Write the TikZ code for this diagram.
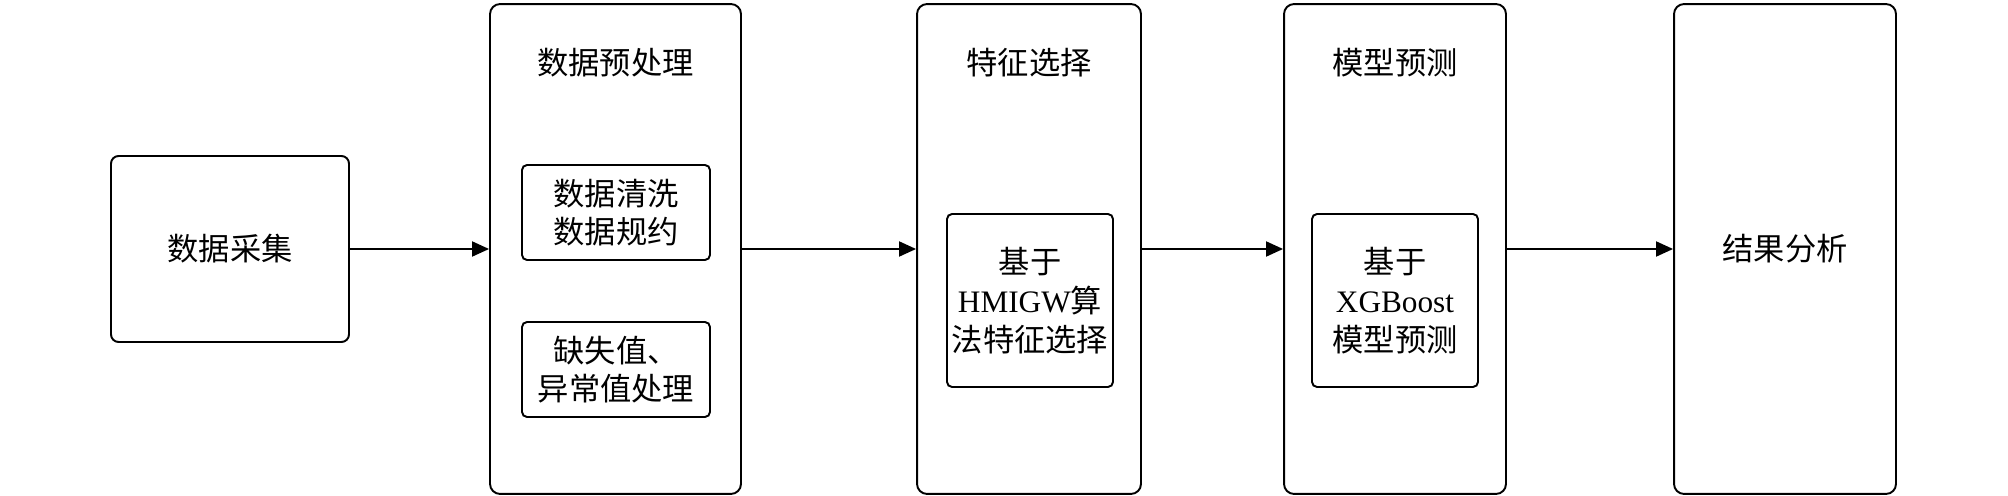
\documentclass[tikz,border=0pt]{standalone}
\usepackage{fontspec}
\setmainfont{Liberation Serif}
\newfontfamily\cjk{Noto Sans CJK SC}
\usetikzlibrary{arrows.meta}
\tikzstyle{box}=[draw, line width=1.1pt, rounded corners=1.5mm, align=center, inner sep=1pt, font=\cjk\fontsize{17.8}{22}\selectfont]
\tikzstyle{stage}=[box, rounded corners=2mm, minimum height=9.8cm]
\tikzstyle{inner}=[box, rounded corners=1mm]
\tikzstyle{title}=[font=\cjk\fontsize{17.8}{22}\selectfont]
\tikzstyle{flow}=[line width=1.1pt, -{Triangle[length=3.4mm,width=3mm]}]

\begin{document}
\begin{tikzpicture}[x=0.02cm, y=-0.02cm] % px coordinates
    \useasboundingbox (0,0) rectangle (2008,496);

    % first box
    \node[box, minimum width=4.76cm, minimum height=3.72cm] (collect) at (230,249) {数据采集};

    % the tall stages
    \node[stage, minimum width=5.02cm] (pre) at (615.5,249) {};
    \node[stage, minimum width=4.48cm] (sel) at (1029,249) {};
    \node[stage, minimum width=4.44cm] (pred) at (1395,249) {};
    \node[stage, minimum width=4.44cm] (res) at (1785,249) {结果分析};

    % titles
    \node[title] (pre_t) at (615.5,63) {数据预处理};
    \node[title] (sel_t) at (1029,63) {特征选择};
    \node[title] (pred_t) at (1395,63) {模型预测};

    % inner boxes
    \node[inner, minimum width=3.76cm, minimum height=1.9cm] (clean) at (616,212.5) {数据清洗\\数据规约};
    \node[inner, minimum width=3.76cm, minimum height=1.9cm] (miss) at (616,369.5) {缺失值、\\异常值处理};
    \node[inner, minimum width=3.32cm, minimum height=3.46cm] (hmigw) at (1030,300.5) {基于\\{\rmfamily HMIGW}算\\法特征选择};
    \node[inner, minimum width=3.32cm, minimum height=3.46cm] (xgb) at (1395,300.5) {基于\\{\rmfamily XGBoost}\\模型预测};

    % arrows
    \draw[flow] (collect) -- (pre);
    \draw[flow] (pre) -- (sel);
    \draw[flow] (sel) -- (pred);
    \draw[flow] (pred) -- (res);

\end{tikzpicture}
\end{document}
